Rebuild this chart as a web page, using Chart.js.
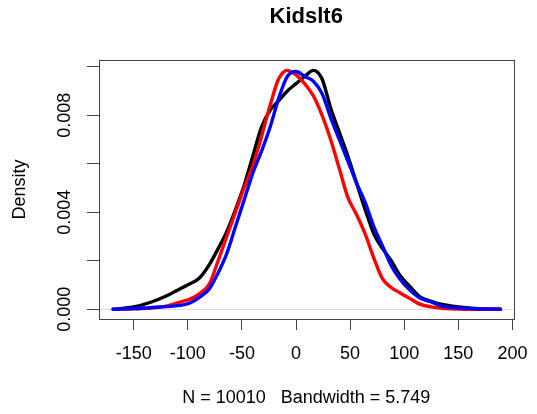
<!DOCTYPE html>
<html>
<head>
<meta charset="utf-8">
<script src="https://cdn.jsdelivr.net/npm/chart.js@4"></script>
<style>
  html, body { margin: 0; padding: 0; background: #ffffff; }
  #wrap { width: 537px; height: 414px; }
</style>
</head>
<body>
<div id="wrap"><canvas id="c" width="537" height="414"></canvas></div>
<script>
// ---- data ----
const chartTitle = "Kidslt6";
const xAxisTitle = "N = 10010   Bandwidth = 5.749";
const yAxisTitle = "Density";

const xs = [-169, -150, -135, -120, -107, -98, -89, -80, -72, -64, -56, -48, -40, -32, -24, -16, -8, 0, 8, 16,
            24, 32, 40, 48, 56, 64, 72, 80, 88, 96, 105, 115, 125, 135, 150, 165, 189];

const blackY = [0, 0.0001, 0.00028, 0.00055, 0.00085, 0.00105, 0.0013, 0.00185, 0.0025, 0.0032, 0.0041, 0.0051,
                0.0063, 0.0075, 0.0082, 0.0086, 0.0090, 0.0093, 0.0096, 0.00985, 0.0095, 0.0083, 0.0073, 0.0063,
                0.0052, 0.0041, 0.0031, 0.0025, 0.0020, 0.0014, 0.00095, 0.0005, 0.00033, 0.0002, 0.0001, 0.00004, 0];

const redY = [0, 0.00002, 0.00005, 0.00013, 0.0003, 0.00042, 0.00065, 0.00105, 0.002, 0.003, 0.004, 0.005,
              0.0059, 0.0071, 0.0084, 0.0095, 0.00985, 0.00966, 0.0093, 0.0088, 0.008, 0.007, 0.0058, 0.0046,
              0.0039, 0.0031, 0.0021, 0.00125, 0.0009, 0.00068, 0.00045, 0.0002, 0.0001, 0.00004, 0.00001, 0, 0];

const blueY = [0, 0.00003, 0.00007, 0.00011, 0.00016, 0.00026, 0.0005, 0.00085, 0.0015, 0.0023, 0.0034, 0.0045,
               0.0056, 0.0065, 0.0075, 0.0087, 0.0096, 0.0098, 0.0096, 0.0094, 0.0089, 0.0079, 0.007, 0.0061,
               0.0052, 0.0044, 0.0034, 0.0026, 0.0018, 0.00125, 0.0008, 0.00045, 0.0003, 0.00013, 0.00006, 0.00002, 0];

const xTicks = [-150, -100, -50, 0, 50, 100, 150, 200];
const yTicks = [0, 0.002, 0.004, 0.006, 0.008, 0.010];
const yTickLabels = ["0.000", "", "0.004", "", "0.008", ""];

// ---- build chart ----
const toPts = ys => xs.map((x, i) => ({ x: x, y: ys[i] }));

const boxPlugin = {
  id: 'rbox',
  beforeDatasetsDraw(chart) {
    const { ctx, chartArea: a, scales: { y } } = chart;
    const y0 = Math.round(y.getPixelForValue(0)) + 0.5;
    ctx.save();
    ctx.strokeStyle = 'rgba(190,190,190,0.5)';
    ctx.lineWidth = 1;
    ctx.beginPath();
    ctx.moveTo(a.left, y0);
    ctx.lineTo(a.right, y0);
    ctx.stroke();
    ctx.restore();
  },
  afterDraw(chart) {
    const { ctx, chartArea: a } = chart;
    ctx.save();
    ctx.strokeStyle = '#444';
    ctx.lineWidth = 1;
    ctx.strokeRect(Math.round(a.left) + 0.5, Math.round(a.top) + 0.5,
                   Math.round(a.right - a.left), Math.round(a.bottom - a.top));
    ctx.restore();
  }
};

const font = 'Liberation Sans, Arial, Helvetica, sans-serif';

new Chart(document.getElementById('c'), {
  type: 'line',
  data: {
    datasets: [
      { label: 'black', data: toPts(blackY), borderColor: '#000000', order: 3 },
      { label: 'red', data: toPts(redY), borderColor: '#ff0000', order: 2 },
      { label: 'blue', data: toPts(blueY), borderColor: '#0000ff', order: 1 }
    ]
  },
  options: {
    responsive: false,
    animation: false,
    events: [],
    elements: {
      point: { radius: 0 },
      line: { borderWidth: 3.4, cubicInterpolationMode: 'monotone', fill: false, borderCapStyle: 'round', borderJoinStyle: 'round' }
    },
    layout: { padding: { left: 0, right: 23.5, top: 0, bottom: 0 } },
    plugins: {
      legend: { display: false },
      tooltip: { enabled: false },
      title: {
        display: true,
        text: chartTitle,
        fullSize: false,
        color: '#000',
        font: { family: font, size: 22, weight: 'bold', lineHeight: 1.2 },
        padding: { top: 4, bottom: 29.5 }
      }
    },
    scales: {
      x: {
        type: 'linear',
        min: -182.1,
        max: 201,
        afterBuildTicks: s => { s.ticks = xTicks.map(v => ({ value: v })); },
        afterFit: s => { s.height = 95; s.paddingLeft = 0; s.paddingRight = 0; },
        border: { display: false },
        grid: { display: true, drawOnChartArea: false, drawTicks: true, tickLength: 11, color: '#444', lineWidth: 1 },
        ticks: {
          autoSkip: false, maxRotation: 0, minRotation: 0, padding: 13, color: '#000',
          font: { family: font, size: 18, lineHeight: 1.2 },
          callback: v => String(v)
        },
        title: {
          display: true, text: xAxisTitle, color: '#000',
          font: { family: font, size: 18, lineHeight: 1.2 },
          padding: { top: 0, bottom: 5.4 }
        }
      },
      y: {
        type: 'linear',
        min: -0.0004,
        max: 0.01028,
        afterBuildTicks: s => { s.ticks = yTicks.map(v => ({ value: v })); },
        afterFit: s => { s.width = 99; s.paddingTop = 0; s.paddingBottom = 0; },
        border: { display: false },
        grid: { display: true, drawOnChartArea: false, drawTicks: true, tickLength: 12, color: '#444', lineWidth: 1 },
        ticks: {
          autoSkip: false, minRotation: 90, maxRotation: 90, crossAlign: 'center', padding: -1, color: '#000',
          font: { family: font, size: 18, lineHeight: 1.2 },
          callback: (v, i) => yTickLabels[i]
        },
        title: {
          display: true, text: yAxisTitle, color: '#000',
          font: { family: font, size: 18, lineHeight: 1.2 },
          padding: { top: 9.2, bottom: 0 }
        }
      }
    }
  },
  plugins: [boxPlugin]
});
</script>
</body>
</html>
